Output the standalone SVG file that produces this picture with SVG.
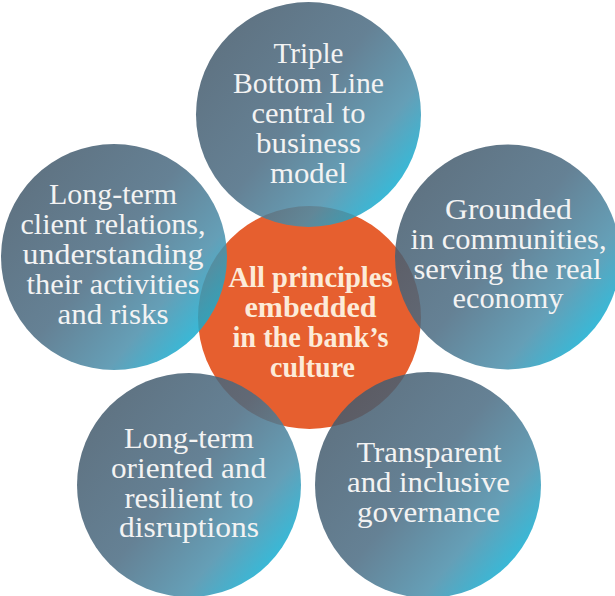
<svg xmlns="http://www.w3.org/2000/svg" width="615" height="596" viewBox="0 0 615 596">
  <style>
    .bubble { fill: url(#blueGrad); fill-opacity: 0.85; }
    .core { fill: #e65f2f; }
    .t { font-family: "Liberation Serif", "Times New Roman", serif; font-size: 29.5px; fill: #f3f3f3; text-anchor: middle; }
    .c { font-family: "Liberation Serif", "Times New Roman", serif; font-size: 29.5px; font-weight: bold; fill: #fcebd9; text-anchor: middle; }
  </style>
  <defs>
    <linearGradient id="blueGrad" x1="0.1" y1="0.15" x2="0.95" y2="0.85">
      <stop offset="0" stop-color="#435a6c"/>
      <stop offset="0.45" stop-color="#4a6b82"/>
      <stop offset="0.75" stop-color="#4a8eaa"/>
      <stop offset="1" stop-color="#05b6dc"/>
    </linearGradient>
  </defs>
  <rect width="615" height="596" fill="#ffffff"/>

  <g id="center">
    <circle class="core" cx="309.5" cy="317.5" r="111.5"/>
  </g>

  <g id="top">
    <circle class="bubble" cx="308.5" cy="114.5" r="112.5"/>
    <text class="t" x="308.5" y="63" textLength="70" lengthAdjust="spacingAndGlyphs">Triple</text>
    <text class="t" x="308.5" y="93" textLength="151" lengthAdjust="spacingAndGlyphs">Bottom Line</text>
    <text class="t" x="308.5" y="123" textLength="114" lengthAdjust="spacingAndGlyphs">central to</text>
    <text class="t" x="308.5" y="153" textLength="105" lengthAdjust="spacingAndGlyphs">business</text>
    <text class="t" x="308.5" y="183" textLength="77" lengthAdjust="spacingAndGlyphs">model</text>
  </g>

  <g id="left">
    <circle class="bubble" cx="114" cy="257" r="113"/>
    <text class="t" x="113" y="204" textLength="128" lengthAdjust="spacingAndGlyphs">Long-term</text>
    <text class="t" x="113" y="234" textLength="185" lengthAdjust="spacingAndGlyphs">client relations,</text>
    <text class="t" x="113" y="264" textLength="181" lengthAdjust="spacingAndGlyphs">understanding</text>
    <text class="t" x="113" y="294" textLength="173" lengthAdjust="spacingAndGlyphs">their activities</text>
    <text class="t" x="113" y="324" textLength="111" lengthAdjust="spacingAndGlyphs">and risks</text>
  </g>

  <g id="right">
    <circle class="bubble" cx="507.5" cy="257" r="112.5"/>
    <text class="t" x="508.5" y="219" textLength="127" lengthAdjust="spacingAndGlyphs">Grounded</text>
    <text class="t" x="508.5" y="249" textLength="196" lengthAdjust="spacingAndGlyphs">in communities,</text>
    <text class="t" x="507.5" y="279" textLength="188" lengthAdjust="spacingAndGlyphs">serving the real</text>
    <text class="t" x="508" y="308" textLength="111" lengthAdjust="spacingAndGlyphs">economy</text>
  </g>

  <g id="bottom-left">
    <circle class="bubble" cx="189" cy="485" r="112"/>
    <text class="t" x="189" y="448" textLength="130" lengthAdjust="spacingAndGlyphs">Long-term</text>
    <text class="t" x="188.5" y="478" textLength="155" lengthAdjust="spacingAndGlyphs">oriented and</text>
    <text class="t" x="189" y="508" textLength="129" lengthAdjust="spacingAndGlyphs">resilient to</text>
    <text class="t" x="189" y="537" textLength="140" lengthAdjust="spacingAndGlyphs">disruptions</text>
  </g>

  <g id="bottom-right">
    <circle class="bubble" cx="428" cy="485" r="113"/>
    <text class="t" x="429" y="462" textLength="145" lengthAdjust="spacingAndGlyphs">Transparent</text>
    <text class="t" x="428.5" y="492" textLength="163" lengthAdjust="spacingAndGlyphs">and inclusive</text>
    <text class="t" x="428.5" y="522" textLength="143" lengthAdjust="spacingAndGlyphs">governance</text>
  </g>

  <g id="center-label">
    <text class="c" x="310.5" y="287" textLength="164" lengthAdjust="spacingAndGlyphs">All principles</text>
    <text class="c" x="310.5" y="317" textLength="132" lengthAdjust="spacingAndGlyphs">embedded</text>
    <text class="c" x="310.5" y="347" textLength="156" lengthAdjust="spacingAndGlyphs">in the bank’s</text>
    <text class="c" x="312.5" y="377" textLength="85" lengthAdjust="spacingAndGlyphs">culture</text>
  </g>
</svg>
